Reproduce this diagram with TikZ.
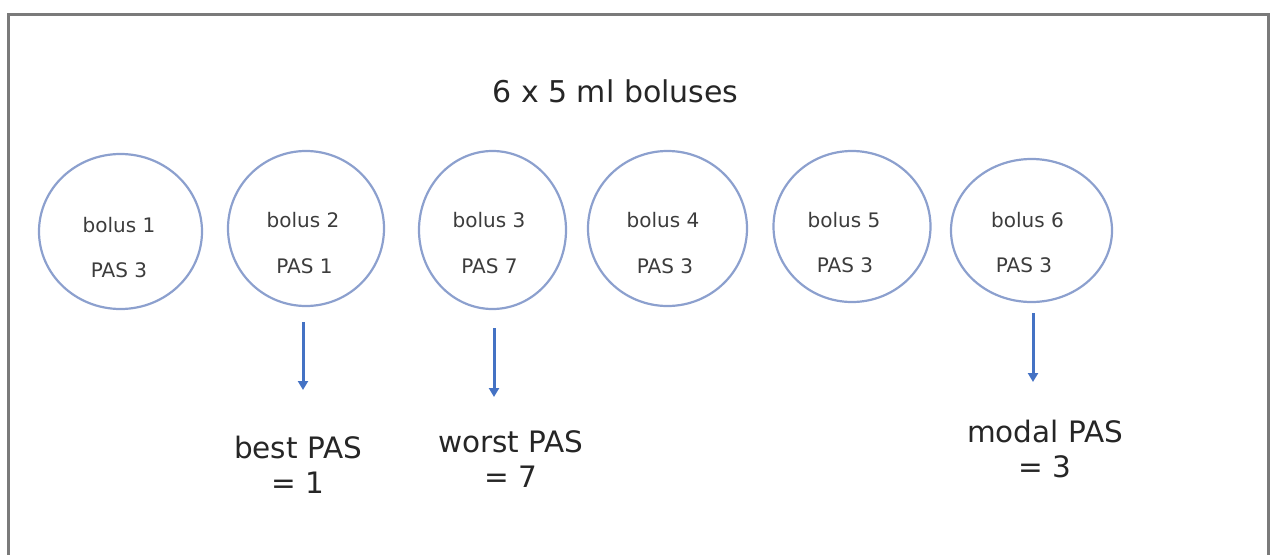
\documentclass[tikz,border=0pt]{standalone}
\usepackage{fontspec}
\setmainfont{DejaVu Sans}
\usetikzlibrary{shapes.geometric,arrows.meta}
\definecolor{framegray}{RGB}{122,122,122}
\definecolor{ringblue}{RGB}{140,160,206}
\definecolor{arrowblue}{RGB}{68,114,196}
\definecolor{txtgray}{RGB}{60,60,60}
\definecolor{lblcol}{RGB}{38,38,38}
\begin{document}
\begin{tikzpicture}[x=1pt,y=-1pt,
  ring/.style={ellipse, draw=ringblue, line width=2.2pt, inner sep=0pt},
  intext/.style={font=\fontsize{20}{22}\selectfont, text=txtgray, inner sep=0pt, anchor=base},
  res/.style={font=\fontsize{29.5}{35}\selectfont, text=lblcol, align=center, inner sep=0pt, anchor=north},
  arr/.style={draw=arrowblue, line width=3pt, -{Triangle[width=10pt,length=9pt]}}]
\useasboundingbox (0,0) rectangle (1271,554);
\clip (0,0) rectangle (1271,554);
\draw[framegray, line width=3pt] (8.5,14.5) rectangle (1268,620);

\node[font=\fontsize{30}{32}\selectfont, text=lblcol, inner sep=0pt, anchor=base] (title) at (615.5,102) {6 x 5 ml boluses};

\node[ring, minimum width=163pt, minimum height=155pt] (b1) at (120.5,231.5) {};
\node[ring, minimum width=156pt, minimum height=155pt] (b2) at (306,228.5) {};
\node[ring, minimum width=147pt, minimum height=158pt] (b3) at (492.5,230) {};
\node[ring, minimum width=159pt, minimum height=155pt] (b4) at (667.5,228.5) {};
\node[ring, minimum width=157pt, minimum height=151pt] (b5) at (852,226.5) {};
\node[ring, minimum width=161pt, minimum height=143pt] (b6) at (1031.5,230.5) {};

\node[intext] (t1a) at (119,232) {bolus 1};
\node[intext] (t1b) at (119,277) {PAS 3};
\node[intext] (t2a) at (303,227) {bolus 2};
\node[intext] (t2b) at (304.5,273) {PAS 1};
\node[intext] (t3a) at (489,227) {bolus 3};
\node[intext] (t3b) at (489.5,273) {PAS 7};
\node[intext] (t4a) at (663,227) {bolus 4};
\node[intext] (t4b) at (665,273) {PAS 3};
\node[intext] (t5a) at (844,227) {bolus 5};
\node[intext] (t5b) at (845,272) {PAS 3};
\node[intext] (t6a) at (1027.5,227) {bolus 6};
\node[intext] (t6b) at (1024,272) {PAS 3};

\node[res] (best) at (298,435.5) {best PAS\\= 1};
\node[res] (worst) at (511,430.5) {worst PAS\\= 7};
\node[res] (modal) at (1045,419.5) {modal PAS\\= 3};

\coordinate (e1) at (303,390);
\coordinate (e2) at (494,397);
\coordinate (e3) at (1033,382);
\draw[arr, shorten <=15pt] (b2.south -| e1) -- (e1);
\draw[arr, shorten <=18pt] (b3.south -| e2) -- (e2);
\draw[arr, shorten <=10pt] (b6.south -| e3) -- (e3);
\end{tikzpicture}
\end{document}
